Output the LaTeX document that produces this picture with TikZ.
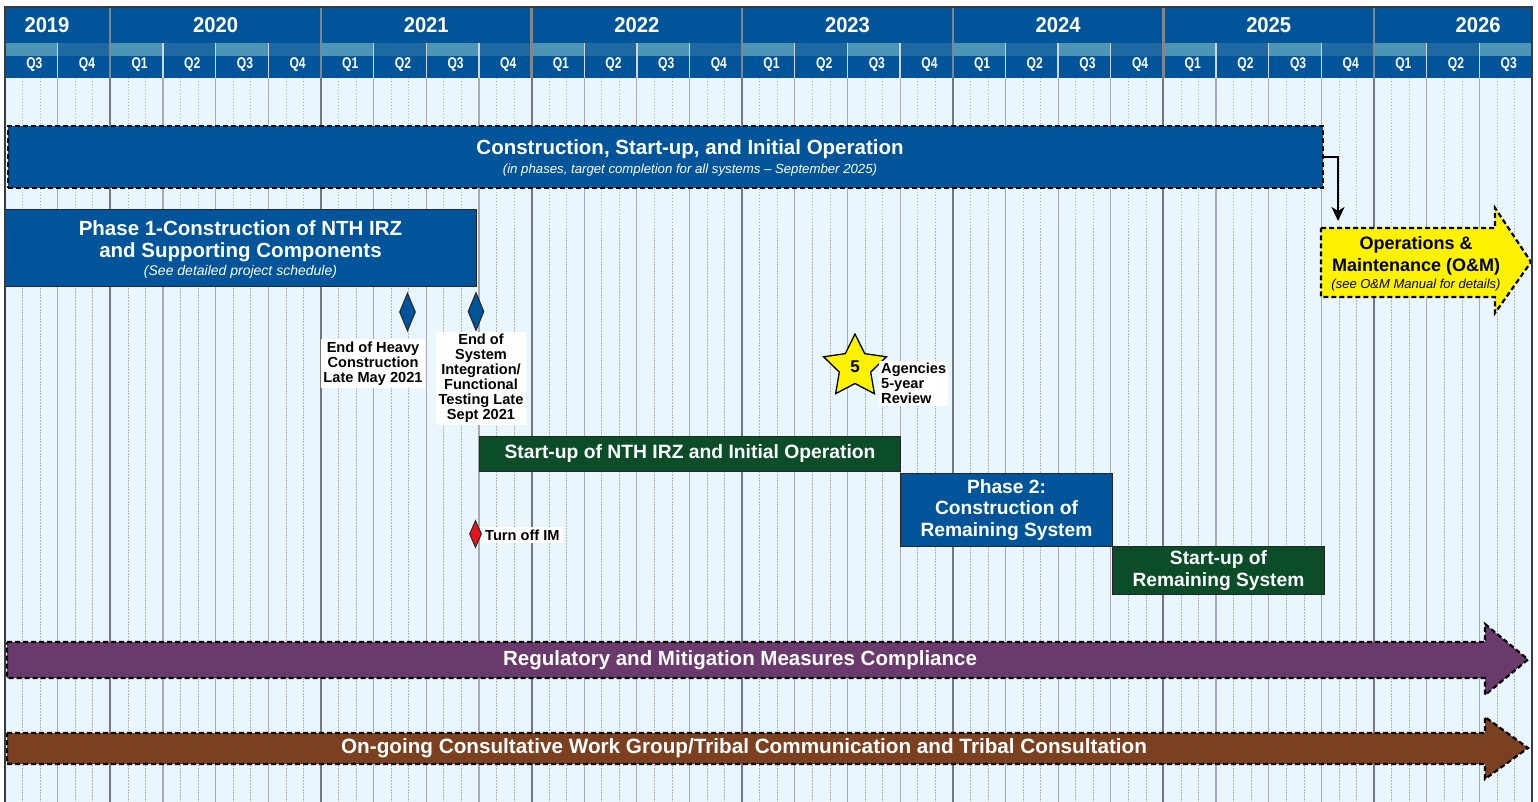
\documentclass[tikz,border=0pt]{standalone}
\usepackage{fontspec}
\setmainfont{Liberation Sans}
\newfontfamily\qfont[FakeStretch=0.78]{Liberation Sans}
\newfontfamily\yfont[FakeStretch=0.94]{Liberation Sans}
\usetikzlibrary{shapes.geometric,arrows.meta}
\definecolor{hdrblue}{HTML}{00559A}
\definecolor{bandlt}{HTML}{4D95B6}
\definecolor{banddk}{HTML}{1F69A2}
\definecolor{bodybg}{HTML}{EAF6FE}
\definecolor{qline}{HTML}{A8ACB2}
\definecolor{yline}{HTML}{74787E}
\definecolor{mline}{HTML}{B0B4BC}
\definecolor{hqline}{HTML}{D0D6DC}
\definecolor{hyline}{HTML}{80868E}
\definecolor{grn}{HTML}{0B4D28}
\definecolor{purp}{HTML}{6A3A6C}
\definecolor{brwn}{HTML}{7A4020}
\definecolor{yel}{HTML}{FFF200}
\definecolor{redd}{HTML}{E8141C}
\definecolor{framecol}{HTML}{3A3A3A}
\tikzset{
  hdrtext/.style={text=white, font=\yfont\fontsize{21.5}{22}\selectfont\bfseries, inner sep=0pt},
  qtext/.style={text=white, font=\qfont\fontsize{15.5}{16}\selectfont\bfseries, inner sep=0pt},
  bar/.style={anchor=north west, inner sep=0pt, align=center, text=white,
    font=\fontsize{20.5}{22}\selectfont\bfseries, draw=black!85, line width=1pt},
  bluebar/.style={bar, fill=hdrblue},
  greenbar/.style={bar, fill=grn},
  dashline/.style={draw=black, line width=2.2pt, dash pattern=on 5pt off 3pt},
  mslabel/.style={fill=white, inner sep=2.5pt, align=center, font=\fontsize{14.6}{15}\selectfont\bfseries},
  msdiamond/.style={diamond, draw=black!85, line width=1pt, inner sep=0pt},
  bigtext/.style={inner sep=0pt, align=center, text=white, font=\fontsize{20.5}{22}\selectfont\bfseries},
}
\begin{document}
\begin{tikzpicture}[x=1pt,y=-1pt]
\useasboundingbox (0,0) rectangle (1538,802);
\pgfmathsetmacro\qwid{52.655}
\fill[white] (0,0) rectangle (1538,802);
\fill[bodybg] (5,78) rectangle (1532,802);
\fill[hdrblue] (5,7) rectangle (1532,78);
% teal band
\foreach \i in {0,2,...,28} \fill[bandlt] ({5+\i*\qwid},43) rectangle ({5+(\i+1)*\qwid},56);
\foreach \i in {1,3,...,27} \fill[banddk] ({5+\i*\qwid},43) rectangle ({5+(\i+1)*\qwid},56);
% month lines
\foreach \i in {0,...,28} {
  \foreach \m in {1,2} {
    \draw[mline, line width=0.6pt, dash pattern=on 1.5pt off 1.5pt] ({5+(\i+\m/3)*\qwid},78) -- ({5+(\i+\m/3)*\qwid},802);
  }
}
% quarter lines
\foreach \i in {1,...,28} {
  \draw[qline, line width=1.2pt] ({5+\i*\qwid},78) -- ({5+\i*\qwid},802);
  \draw[hqline, line width=1.3pt] ({5+\i*\qwid},43) -- ({5+\i*\qwid},78);
}
% year lines
\foreach \i in {2,6,...,26} {
  \draw[yline, line width=2pt] ({5+\i*\qwid},78) -- ({5+\i*\qwid},802);
  \draw[hyline, line width=2.2pt] ({5+\i*\qwid},7) -- ({5+\i*\qwid},78);
}
% quarter labels
\foreach \i in {0,...,28} {
  \pgfmathtruncatemacro\qn{mod(\i+2,4)+1}
  \node[qtext] (q\i) at ({5+(\i+0.5)*\qwid+3},64.5) {Q\qn};
}
% year labels
\node[hdrtext] (y2019) at (47,25.5) {2019};
\foreach \k in {0,...,5} {
  \pgfmathtruncatemacro\yr{2020+\k}
  \node[hdrtext] (y\yr) at ({5+(4+4*\k)*\qwid},25.5) {\yr};
}
\node[hdrtext] (y2026) at (1478,25.5) {2026};

% main construction bar
\node[bar, fill=hdrblue, dashline, minimum width=1315pt, minimum height=62pt] (cso) at (7,125) {};
\node[bigtext] (csotxt) at (690,158)
  {Construction, Start-up, and Initial Operation\\[-2.7pt]
   {\fontsize{13.2}{14}\selectfont\mdseries\itshape (in phases, target completion for all systems -- September 2025)}};

% phase 1
\node[bluebar, minimum width=471pt, minimum height=77pt] (ph1) at (5,209) {};
\node[bigtext] (ph1txt) at (240.5,249.5)
  {Phase 1-Construction of NTH IRZ\\and Supporting Components\\[-3.6pt]
   {\fontsize{14}{15}\selectfont\mdseries\itshape (See detailed project schedule)}};

% milestones
\node[msdiamond, fill=hdrblue, minimum width=16pt, minimum height=38pt] (d1) at (407.5,312) {};
\node[msdiamond, fill=hdrblue, minimum width=16pt, minimum height=38pt] (d2) at (476,311.5) {};
\node[mslabel] (l1) at (373,363.5) {End of Heavy\\Construction\\Late May 2021};
\node[mslabel] (l2) at (481,378.5) {End of\\System\\Integration/\\Functional\\Testing Late\\Sept 2021};

% star
\node[star, star points=5, star point ratio=2.0, minimum size=66pt, inner sep=0pt,
  fill=yel, draw=black, line width=1.3pt, font=\fontsize{17}{17}\selectfont\bfseries] (st) at (855,367) {5};
\node[mslabel, anchor=west, align=left, inner sep=2pt] (agl) at (879,383.5) {Agencies\\5-year\\Review};

% start-up NTH
\node[greenbar, minimum width=421pt, minimum height=35pt, font=\fontsize{19.3}{22}\selectfont\bfseries] (su1) at (479,436)
  {Start-up of NTH IRZ and Initial Operation};

% turn off IM
\node[msdiamond, fill=redd, minimum width=12pt, minimum height=27pt] (d3) at (475.5,534) {};
\node[mslabel, anchor=west, inner sep=3pt] (l3) at (482,535) {Turn off IM};

% phase 2
\node[bluebar, minimum width=212pt, minimum height=73pt, font=\fontsize{19.2}{21.5}\selectfont\bfseries] (ph2) at (900,473)
  {Phase 2:\\Construction of\\Remaining System};
\node[greenbar, minimum width=212pt, minimum height=48pt, font=\fontsize{19.2}{22}\selectfont\bfseries] (su2) at (1112,546)
  {Start-up of\\Remaining System};

% O&M arrow
\filldraw[fill=yel, dashline] (1321,228) -- (1495,228) -- (1495,208) -- (1531,262) -- (1495,313) -- (1495,297) -- (1321,297) -- cycle;
\node[bigtext, text=black, font=\fontsize{18}{22}\selectfont\bfseries] (om) at (1416,264)
  {Operations \&\\Maintenance (O\&M)\\[-4.7pt]
   {\fontsize{13}{14}\selectfont\mdseries\itshape (see O\&M Manual for details)}};
\coordinate (omtop) at (1338,221);
\draw[line width=2pt, -{Stealth[length=14pt,width=13pt,inset=4pt]}] (cso.east) -| (omtop);

% regulatory arrow
\filldraw[fill=purp, dashline] (7,642) -- (1485,642) -- (1485,624) -- (1528,659.5) -- (1485,695) -- (1485,678) -- (7,678) -- cycle;
\node[bigtext] (reg) at (740,660) {Regulatory and Mitigation Measures Compliance};

% on-going arrow
\filldraw[fill=brwn, dashline] (7,733) -- (1485,733) -- (1485,717) -- (1528,748) -- (1485,779) -- (1485,764) -- (7,764) -- cycle;
\node[bigtext, font=\fontsize{20.7}{22}\selectfont\bfseries] (ongo) at (744,748) {On-going Consultative Work Group/Tribal Communication and Tribal Consultation};

% frame
\draw[framecol, line width=2pt] (5,802) -- (5,7) -- (1532,7) -- (1532,802);
\end{tikzpicture}
\end{document}
